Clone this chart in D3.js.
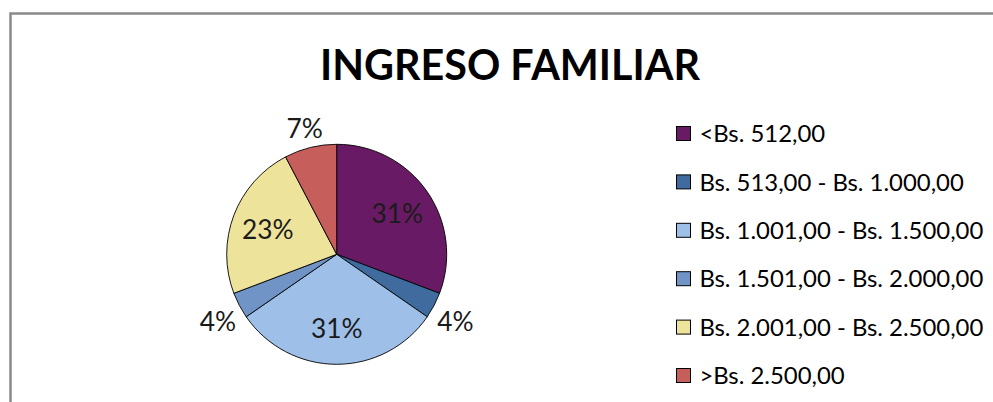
<!DOCTYPE html>
<html>
<head>
<meta charset="utf-8">
<script src="https://cdn.jsdelivr.net/npm/d3@7"></script>
<style>
  html, body { margin: 0; padding: 0; background: #fff; }
  svg { display: block; }
</style>
</head>
<body>
<svg id="chart" width="993" height="402"></svg>
<script>
// ---- Data ----
const title = "INGRESO FAMILIAR";
const categories = [
  "<Bs. 512,00",
  "Bs. 513,00 - Bs. 1.000,00",
  "Bs. 1.001,00 - Bs. 1.500,00",
  "Bs. 1.501,00 - Bs. 2.000,00",
  "Bs. 2.001,00 - Bs. 2.500,00",
  ">Bs. 2.500,00"
];
const counts = [8, 1, 8, 1, 6, 2];
const percentLabels = ["31%", "4%", "31%", "4%", "23%", "7%"];
const colors = ["#691a64", "#3f6b9e", "#9ebfe7", "#7194c6", "#eee39b", "#c65f5b"];

// ---- Layout ----
const svg = d3.select("#chart");
const W = 993, H = 402;
const FONT = "Lato, 'Open Sans', sans-serif";

// chart border (cropped frame)
svg.append("path")
  .attr("d", `M10.5,${H + 5} V13.5 H${W + 5}`)
  .attr("fill", "none")
  .attr("stroke", "#8a8a8a")
  .attr("stroke-width", 2.5);

function fitText(sel, targetWidth) {
  const node = sel.node();
  const fs = parseFloat(sel.attr("font-size"));
  const w = node.getComputedTextLength();
  if (w > 0) sel.attr("font-size", fs * targetWidth / w);
}

// title
const t = svg.append("text")
  .attr("x", 510).attr("y", 79.5)
  .attr("text-anchor", "middle")
  .attr("font-family", FONT)
  .attr("font-weight", "bold")
  .attr("font-size", 44)
  .attr("fill", "#000")
  .text(title);
fitText(t, 380);

// pie
const cx = 336.7, cy = 254.3, R = 110;
const total = d3.sum(counts);
const pie = d3.pie().sort(null).value(d => d)(counts);
const arc = d3.arc().innerRadius(0).outerRadius(R);
const g = svg.append("g").attr("transform", `translate(${cx},${cy})`);

g.selectAll("path.slice")
  .data(pie)
  .join("path")
  .attr("class", "slice")
  .attr("d", arc)
  .attr("fill", (d, i) => colors[i])
  .attr("stroke", "#000")
  .attr("stroke-width", 0.9)
  .attr("stroke-linejoin", "round");

const inArc = d3.arc().innerRadius(R * 0.67).outerRadius(R * 0.67);
const outArc = d3.arc().innerRadius(R * 1.22).outerRadius(R * 1.22);

g.selectAll("text.lbl")
  .data(pie)
  .join("text")
  .attr("class", "lbl")
  .attr("transform", d => {
    const frac = d.value / total;
    const c = frac < 0.1 ? outArc.centroid(d) : inArc.centroid(d);
    const yShift = frac < 0.1 ? 5 : 1;
    return `translate(${c[0]},${c[1] + yShift})`;
  })
  .attr("text-anchor", "middle")
  .attr("dy", "0.36em")
  .attr("font-family", FONT)
  .attr("font-size", 20)
  .attr("fill", "#1a1a1a")
  .text((d, i) => percentLabels[i]);

// legend
const legX = 676, legY0 = 133.5, legStep = 48.4;
const leg = svg.append("g");
categories.forEach((c, i) => {
  const y = legY0 + i * legStep;
  leg.append("rect")
    .attr("x", legX + 0.5).attr("y", y - 7)
    .attr("width", 14).attr("height", 14)
    .attr("fill", colors[i])
    .attr("stroke", "#000")
    .attr("stroke-width", 1);
  leg.append("text")
    .attr("class", "legtxt")
    .attr("x", 699.5).attr("y", y)
    .attr("dy", "0.36em")
    .attr("font-family", FONT)
    .attr("font-size", 20)
    .attr("fill", "#000")
    .text(c);
});
const longest = leg.selectAll("text.legtxt").filter((d, i) => i === 2);
const w0 = longest.node().getComputedTextLength();
const fs = 20 * 284 / w0;
leg.selectAll("text.legtxt").attr("font-size", fs);
g.selectAll("text.lbl").attr("font-size", fs * 1.1);
</script>
</body>
</html>
